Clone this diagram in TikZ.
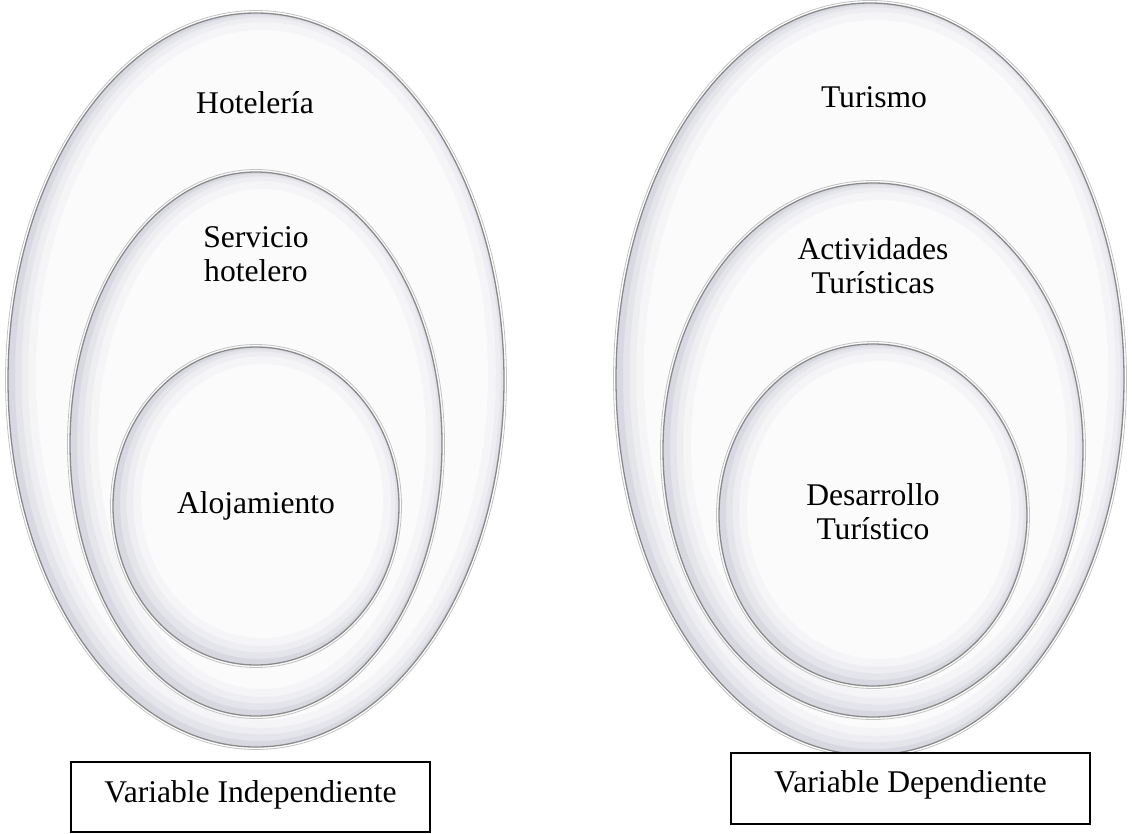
\documentclass[tikz,border=0pt]{standalone}
\usepackage{fontspec}
\setmainfont{Liberation Serif}
\definecolor{eggline}{RGB}{138,138,138}
\definecolor{eggouter}{RGB}{195,195,195}
\definecolor{eggfill}{RGB}{251,251,252}
\definecolor{shA}{RGB}{245,245,248}
\definecolor{shB}{RGB}{237,237,242}
\definecolor{shC}{RGB}{228,228,235}
\definecolor{shD}{RGB}{216,216,224}
\newcommand\eggshape[4]{%
  \fill[eggfill] (#1,#2) ellipse [x radius=#3pt, y radius=#4pt];
  \begin{scope}
    \clip (#1,#2) ellipse [x radius=#3pt, y radius=#4pt];
    \draw[shA, line width=44pt] ({#1+6},{#2-5}) ellipse [x radius=#3pt, y radius=#4pt];
    \draw[shB, line width=28pt] ({#1+6},{#2-5}) ellipse [x radius=#3pt, y radius=#4pt];
    \draw[shC, line width=17pt] ({#1+5},{#2-4}) ellipse [x radius=#3pt, y radius=#4pt];
    \draw[shD, line width=8pt] ({#1+3},{#2-2}) ellipse [x radius=#3pt, y radius=#4pt];
  \end{scope}
  \draw[eggouter, line width=0.8pt] (#1,#2) ellipse [x radius=#3pt+2.5pt, y radius=#4pt+2.5pt];
  \draw[eggline, line width=1.3pt] (#1,#2) ellipse [x radius=#3pt, y radius=#4pt];
}
\begin{document}
\begin{tikzpicture}[x=1pt,y=-1pt,
  lbl/.style={font=\fontsize{31.6}{34}\selectfont, inner sep=0pt, align=center},
  varbox/.style={draw=black, line width=1.3pt, fill=white,
    font=\fontsize{31.6}{34}\selectfont, inner sep=0pt,
    minimum width=359pt, text height=21.5pt}]
\useasboundingbox (0,0) rectangle (1132,833);
\fill[white] (0,0) rectangle (1132,833);
% left group
\eggshape{256}{380}{248}{367}
\eggshape{256}{444}{186}{272}
\eggshape{256}{506}{143}{159}
% right group
\eggshape{870}{379}{254}{376}
\eggshape{873}{450}{210}{267}
\eggshape{873}{515}{154}{171}
% labels
\node[lbl, anchor=base] (hot) at (255,113) {Hotelería};
\node[lbl] (serv) at (256,254) {Servicio\\hotelero};
\node[lbl, anchor=base] (aloj) at (256,513) {Alojamiento};
\node[lbl, anchor=base] (tur) at (874,107) {Turismo};
\node[lbl] (act) at (873,266) {Actividades\\Turísticas};
\node[lbl] (des) at (873,512) {Desarrollo\\Turístico};
% boxes
\node[varbox, minimum height=70pt, text depth=11.5pt] (vi) at (250.5,797) {Variable Independiente};
\node[varbox, minimum height=71pt, text depth=14.5pt] (vd) at (910.5,788.5) {Variable Dependiente};
\end{tikzpicture}
\end{document}
